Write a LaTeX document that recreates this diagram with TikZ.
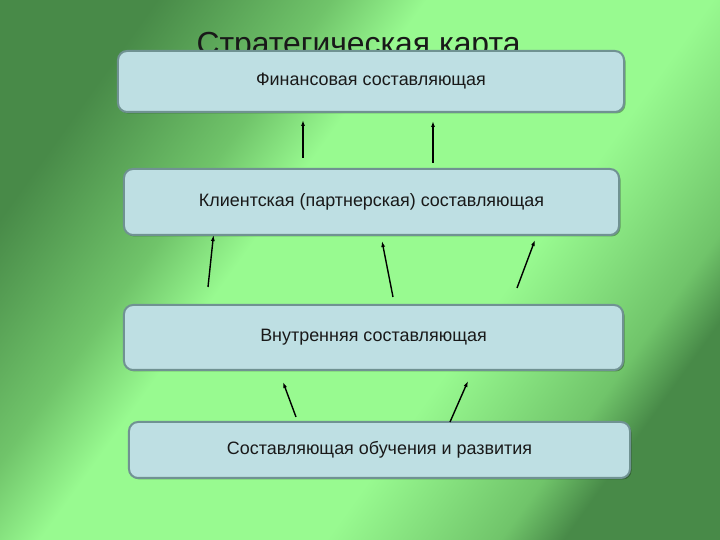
\documentclass[tikz,border=0pt]{standalone}
\usepackage{fontspec}
\setmainfont{Liberation Sans}
\usetikzlibrary{arrows.meta,shadows}

\definecolor{bgdark}{RGB}{72,138,72}
\definecolor{bgmid}{RGB}{112,196,106}
\definecolor{bglight}{RGB}{152,250,144}
\definecolor{boxfill}{RGB}{190,223,227}
\definecolor{boxline}{RGB}{112,146,146}

\pgfdeclarehorizontalshading{bgshade}{100bp}{color(0bp)=(bgdark); color(25bp)=(bgdark); color(36bp)=(bgmid); color(42bp)=(bglight); color(60bp)=(bglight); color(71bp)=(bgmid); color(75bp)=(bgdark); color(100bp)=(bgdark)}

\begin{document}
\begin{tikzpicture}[x=1bp, y=1bp,
  box/.style={rounded corners=9bp, draw=boxline, line width=2bp, fill=boxfill, text=black!90,
    font=\fontsize{18}{20}\selectfont,
    drop shadow={shadow xshift=1.5bp, shadow yshift=-1.5bp, fill=black, opacity=0.3}},
  arr/.style={-{Latex[length=6bp,width=4bp]}, line width=1.4bp}]

\shade[shading=bgshade, shading angle=-35.6] (0,0) rectangle (720,540);

\draw (358.5, 485) node[anchor=base, text=black!90, font=\fontsize{32}{36}\selectfont] (title) {Стратегическая карта};

\draw (371, 458.5) node[box, minimum width=506bp, minimum height=61bp] (fin) {Финансовая составляющая};

\draw (371.5, 338) node[box, minimum width=495bp, minimum height=66bp] (cli) {Клиентская (партнерская) составляющая};

\draw (373.5, 202.5) node[box, minimum width=499bp, minimum height=65bp] (inn) {Внутренняя составляющая};

\draw (379.5, 90) node[box, minimum width=501bp, minimum height=56bp] (edu) {Составляющая обучения и развития};

\coordinate (a1) at (303, 382);
\coordinate (a1h) at (303, 420);
\coordinate (a2) at (433, 377);
\coordinate (a2h) at (433, 419);

\coordinate (b1) at (208, 253);
\coordinate (b1h) at (213.5, 305);
\coordinate (b2) at (393, 243);
\coordinate (b2h) at (382, 299);
\coordinate (b3) at (517, 252);
\coordinate (b3h) at (535, 300);

\coordinate (c1) at (296, 123);
\coordinate (c1h) at (283, 158);
\coordinate (c2) at (450, 118);
\coordinate (c2h) at (468, 159);

\draw[arr] (a1) -- (a1h);
\draw[arr] (a2) -- (a2h);
\draw[arr] (b1) -- (b1h);
\draw[arr] (b2) -- (b2h);
\draw[arr] (b3) -- (b3h);
\draw[arr] (c1) -- (c1h);
\draw[arr] (c2) -- (c2h);
\end{tikzpicture}
\end{document}
